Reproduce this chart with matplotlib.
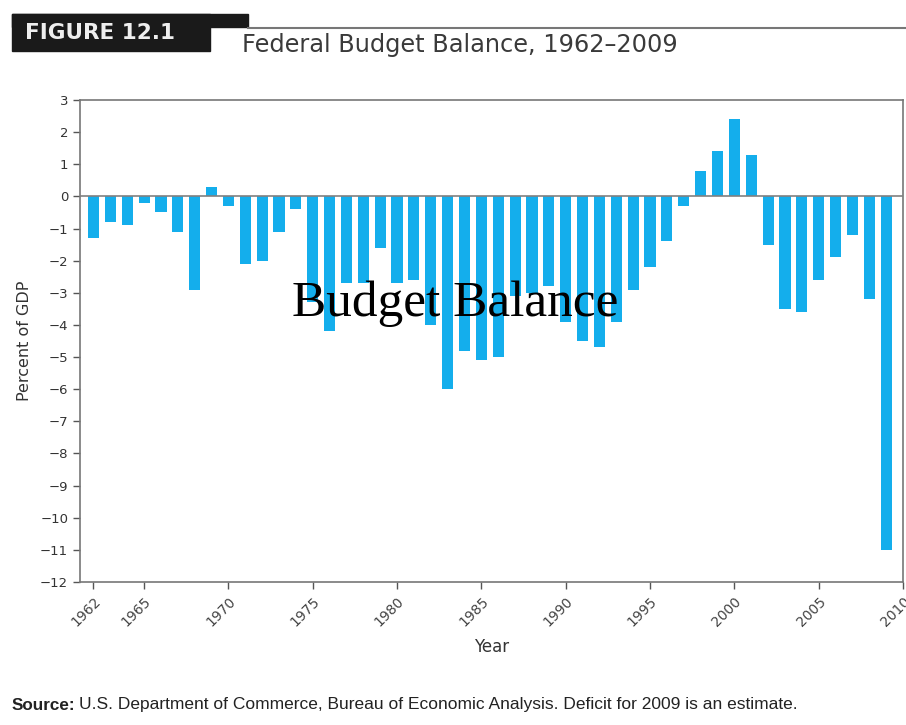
import matplotlib.pyplot as plt
from matplotlib.patches import Rectangle

# Federal budget balance, percent of GDP
years = list(range(1962, 2010))
balance = [-1.3, -0.8, -0.9, -0.2, -0.5, -1.1, -2.9, 0.3, -0.3, -2.1,
           -2.0, -1.1, -0.4, -3.3, -4.2, -2.7, -2.7, -1.6, -2.7, -2.6,
           -4.0, -6.0, -4.8, -5.1, -5.0, -3.1, -3.0, -2.8, -3.9, -4.5,
           -4.7, -3.9, -2.9, -2.2, -1.4, -0.3, 0.8, 1.4, 2.4, 1.3,
           -1.5, -3.5, -3.6, -2.6, -1.9, -1.2, -3.2, -11.0]
xticks = [1962, 1965, 1970, 1975, 1980, 1985, 1990, 1995, 2000, 2005, 2010]
yticks = list(range(-12, 4))

W, H = 906, 725
fig = plt.figure(figsize=(W / 100, H / 100), dpi=100)
fig.patch.set_facecolor('white')

ax = fig.add_axes([80 / W, (H - 582) / H, (903 - 80) / W, (582 - 100) / H])
ax.bar(years, balance, width=0.66, color='#14aeec', zorder=2)
ax.axhline(0, color='#808080', lw=1.2, zorder=3)

ax.set_xlim(1961.2, 2010)
ax.set_ylim(-12, 3)
ax.set_xticks(xticks)
ax.set_xticklabels([str(x) for x in xticks], rotation=45, ha='right',
                   rotation_mode='anchor', fontsize=10, color='#444444')
ax.set_yticks(yticks)
ax.set_yticklabels([str(y).replace('-', '\u2212') for y in yticks],
                   fontsize=9.5, color='#333333')
ax.tick_params(axis='both', length=5, width=1, color='#555555')
ax.tick_params(axis='x', pad=4)
for s in ax.spines.values():
    s.set_color('#777777')
    s.set_linewidth(1.2)

ax.set_ylabel('Percent of GDP', fontsize=11.5, color='#333333', labelpad=6)
ax.set_xlabel('Year', fontsize=12, color='#333333', labelpad=6)

# header
fig.patches.append(Rectangle((12 / W, 1 - 51 / H), (210 - 12) / W, 37 / H,
                             transform=fig.transFigure, color='#1a1a1a'))
fig.patches.append(Rectangle((12 / W, 1 - 27 / H), (248 - 12) / W, 13 / H,
                             transform=fig.transFigure, color='#1a1a1a'))
fig.lines.append(plt.Line2D([248 / W, 1], [1 - 28 / H, 1 - 28 / H],
                            transform=fig.transFigure, color='#777777', lw=1.5))
fig.text(25 / W, 1 - 33 / H, 'FIGURE 12.1', color='#eeeeee', fontsize=15.5,
         fontweight='bold', va='center', ha='left', family='DejaVu Sans')
fig.text(242 / W, 1 - 45 / H, 'Federal Budget Balance, 1962\u20132009',
         color='#3a3a3a', fontsize=17.3, va='center', ha='left')

# overlay label
fig.text(455 / W, 1 - 304 / H, 'Budget Balance', family='Liberation Serif',
         fontsize=37, color='black', ha='center', va='center')

# source line
fig.text(12 / W, 1 - 705 / H, 'Source:', fontweight='bold', fontsize=12.3,
         color='#222222', va='center', family='Liberation Sans')
fig.text(79 / W, 1 - 705 / H,
         'U.S. Department of Commerce, Bureau of Economic Analysis. '
         'Deficit for 2009 is an estimate.',
         fontsize=12.5, color='#222222', va='center', family='Liberation Sans')

fig.savefig('out.png', dpi=100)
